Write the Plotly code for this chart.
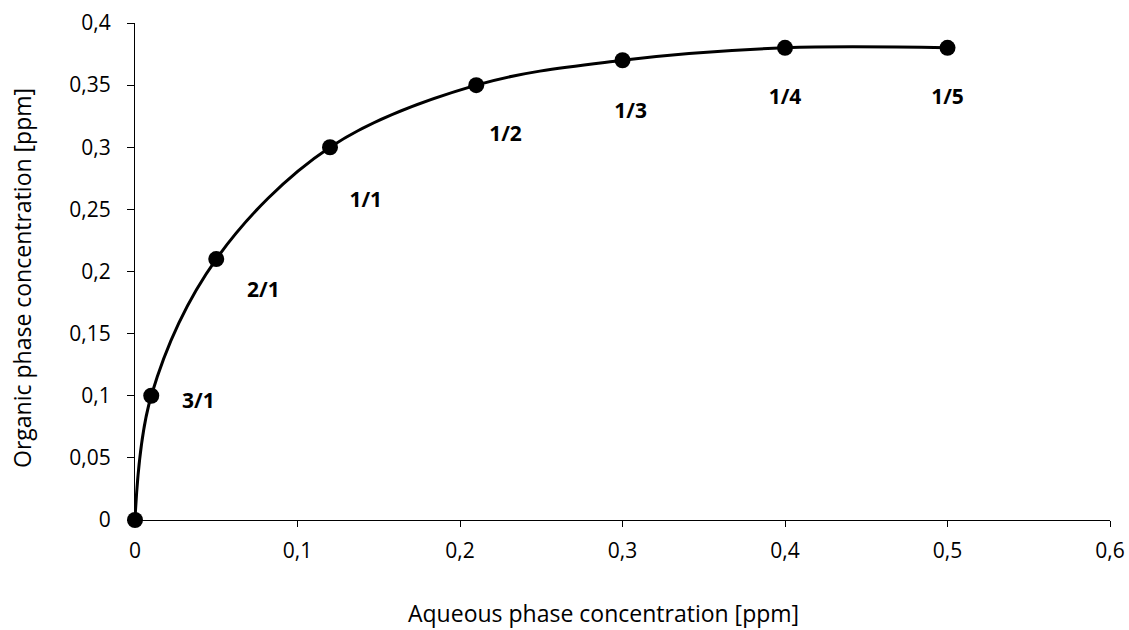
import plotly.graph_objects as go

aqueous = [0, 0.01, 0.05, 0.12, 0.21, 0.30, 0.40, 0.50]
organic = [0, 0.10, 0.21, 0.30, 0.35, 0.37, 0.38, 0.38]

ratio_labels = ["3/1", "2/1", "1/1", "1/2", "1/3", "1/4", "1/5"]
label_x = [0.039, 0.079, 0.142, 0.228, 0.305, 0.400, 0.500]
label_y = [0.094, 0.184, 0.256, 0.309, 0.328, 0.339, 0.339]

x_ticks = [0, 0.1, 0.2, 0.3, 0.4, 0.5, 0.6]
y_ticks = [0, 0.05, 0.1, 0.15, 0.2, 0.25, 0.3, 0.35, 0.4]

font_family = "Open Sans"

fig = go.Figure()
fig.add_trace(go.Scatter(
    x=aqueous, y=organic, mode="lines+markers",
    line=dict(color="black", width=3, shape="spline", smoothing=1),
    marker=dict(color="black", size=16),
    cliponaxis=False, showlegend=False,
))
fig.add_trace(go.Scatter(
    x=label_x, y=label_y, mode="text", text=ratio_labels,
    textfont=dict(family=font_family, size=21, color="black", weight="bold"),
    showlegend=False, cliponaxis=False,
))

fig.update_layout(
    width=1129, height=630,
    margin=dict(l=135, r=19, t=23, b=110),
    paper_bgcolor="white", plot_bgcolor="white",
    separators=",.",
    font=dict(family=font_family, size=21, color="black"),
    xaxis=dict(range=[0, 0.6], tickvals=x_ticks, showgrid=False, zeroline=False,
               showline=True, linecolor="black", linewidth=1,
               ticks="outside", ticklen=6, tickcolor="black", automargin=False,
               ticklabelstandoff=6, tickfont=dict(size=21)),
    yaxis=dict(range=[0, 0.4], tickvals=y_ticks, showgrid=False, zeroline=False,
               showline=True, linecolor="black", linewidth=1,
               ticks="outside", ticklen=7, tickcolor="black", automargin=False,
               ticklabelstandoff=12, tickfont=dict(size=21)),
    annotations=[
        dict(text="Aqueous phase concentration [ppm]", xref="paper", yref="paper",
             x=(603 - 135) / 975, y=-(613 - 520) / 497, xanchor="center", yanchor="middle",
             showarrow=False, font=dict(size=23)),
        dict(text="Organic phase concentration [ppm]", xref="paper", yref="paper",
             x=(22 - 135) / 975, y=(520 - 278) / 497, xanchor="center", yanchor="middle",
             textangle=-90, showarrow=False, font=dict(size=23)),
    ],
)

fig.write_html("out.html")
